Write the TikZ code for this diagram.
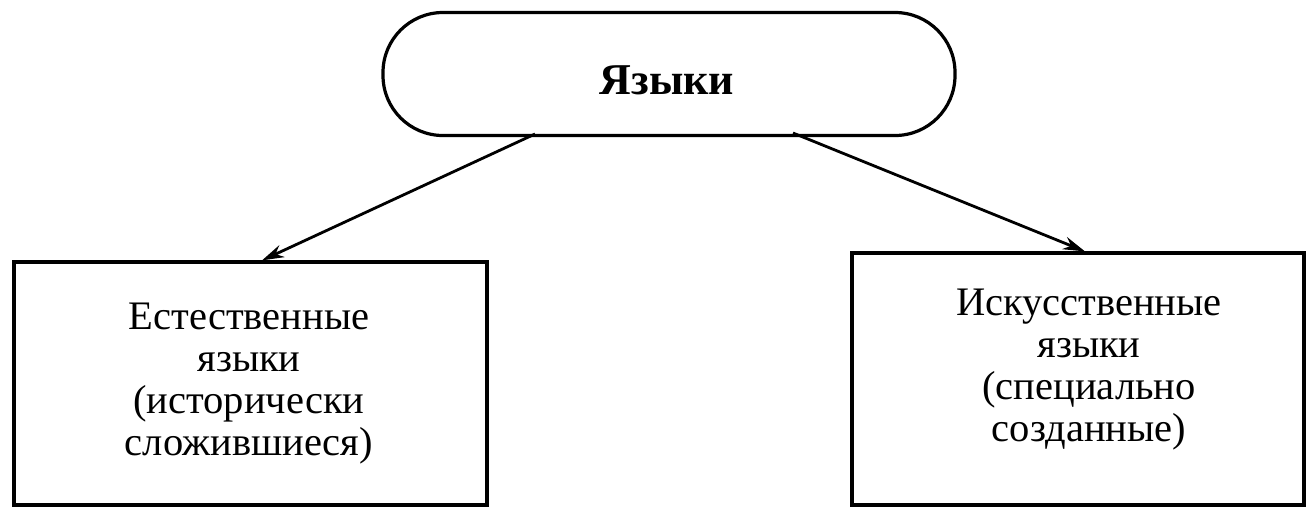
\documentclass[tikz,border=0pt]{standalone}
\usepackage{fontspec}
\setmainfont{Liberation Serif}
\usetikzlibrary{arrows.meta}
\begin{document}
\begin{tikzpicture}[x=1pt,y=-1pt,
  box/.style={draw,line width=3.2pt,rectangle,inner sep=0pt},
  lbl/.style={align=center,font=\fontsize{40.5}{42}\selectfont},
  arr/.style={-{Stealth[length=22pt,width=13pt]},line width=2.8pt}]
\useasboundingbox (0,0) rectangle (1309,507);
\node[draw,line width=3.2pt,rounded corners=60pt,minimum width=572pt,minimum height=123pt,inner sep=0pt] (top) at (669,74) {};
\node[font=\fontsize{44}{50}\bfseries\selectfont] (toptext) at (667,80) {Языки};
\node[box,minimum width=473pt,minimum height=243pt] (left) at (250.5,383.5) {};
\node[box,minimum width=452pt,minimum height=252pt] (right) at (1078,379) {};
\node[lbl] (ltext) at (249,384) {Естественные\\языки\\(исторически\\сложившиеся)};
\node[lbl] (rtext) at (1089,370) {Искусственные\\языки\\(специально\\созданные)};
\coordinate (la) at (535,134);
\coordinate (ra) at (793,133);
\draw[arr] (la) -- (left.north -| 262,0);
\draw[arr] (ra) -- (right.north -| 1085,0);
\end{tikzpicture}
\end{document}
